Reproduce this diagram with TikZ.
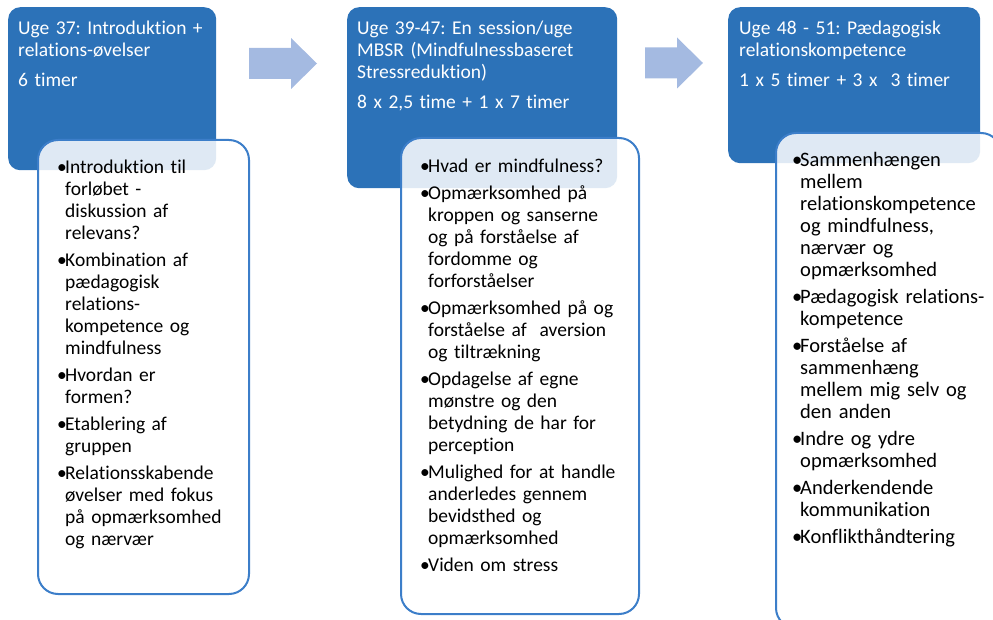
\documentclass[tikz,border=0pt]{standalone}
\usepackage{fontspec}
\setmainfont{Carlito}[Ligatures=NoCommon]
\usetikzlibrary{positioning}
\frenchspacing

\definecolor{hdrblue}{RGB}{44,114,184}
\definecolor{boxblue}{RGB}{60,126,201}
\definecolor{arrowblue}{RGB}{164,186,225}

% bullet and hanging indent
\newcommand{\bl}{\makebox[8pt][l]{\textbullet}}
\newcommand{\ind}{\hspace*{8pt}}

\begin{document}
\begin{tikzpicture}[x=1pt,y=-1pt,
  hdr/.style={fill=hdrblue, rounded corners=12pt, anchor=north west, inner sep=0pt},
  hdrtext/.style={anchor=base west, inner sep=0pt, text=white, align=left,
    text width=300pt, font=\fontsize{19.5}{22}\selectfont},
  itembox/.style={draw=boxblue, line width=2pt, fill=white, fill opacity=0.85,
    rounded corners=20pt, anchor=north west, inner sep=0pt},
  itemtext/.style={anchor=base west, inner sep=0pt, align=left,
    text width=300pt, font=\fontsize{19.5}{22}\selectfont},
  blockarrow/.style={fill=arrowblue}
]

\useasboundingbox (0,0) rectangle (993,620);
\clip (0,0) rectangle (993,620);

% Blue headers
\node[hdr, minimum width=208pt, minimum height=163pt] (h1) at (8,7) {};
\node[hdr, minimum width=270pt, minimum height=181pt] (h2) at (347,7) {};
\node[hdr, minimum width=252pt, minimum height=156pt] (h3) at (728,7) {};

\node[hdrtext] (t1) at ([shift={(10,28)}]h1.north west)
  {Uge 37: Introduktion +\\relations-øvelser\\[8pt]6 timer};
\node[hdrtext] (t2) at ([shift={(10,28)}]h2.north west)
  {Uge 39-47: En session/uge\\MBSR (Mindfulnessbaseret\\Stressreduktion)\\[8pt]8 x 2,5 time + 1 x 7 timer};
\node[hdrtext] (t3) at ([shift={(11,28)}]h3.north west)
  {Uge 48 - 51: Pædagogisk\\relationskompetence\\[8pt]1 x 5 timer + 3 x~~3 timer};

% White boxes
\node[itembox, minimum width=211pt, minimum height=454pt] (b1) at (37,139) {};
\node[itembox, minimum width=238pt, minimum height=476pt] (b2) at (400,137) {};
\node[itembox, minimum width=225pt, minimum height=495pt] (b3) at (775,132) {};

\node[itemtext] (l1) at ([shift={(20,35)}]b1.north west)
  {\bl Introduktion til\\\ind forløbet -\\\ind diskussion af\\\ind relevans?\\[5pt]
   \bl Kombination af\\\ind pædagogisk\\\ind relations-\\\ind kompetence og\\\ind mindfulness\\[5pt]
   \bl Hvordan er\\\ind formen?\\[5pt]
   \bl Etablering af\\\ind gruppen\\[5pt]
   \bl Relationsskabende\\\ind øvelser med fokus\\\ind på opmærksomhed\\\ind og nærvær};

\node[itemtext] (l2) at ([shift={(20,36)}]b2.north west)
  {\bl Hvad er mindfulness?\\[5pt]
   \bl Opmærksomhed på\\\ind kroppen og sanserne\\\ind og på forståelse af\\\ind fordomme og\\\ind forforståelser\\[5pt]
   \bl Opmærksomhed på og\\\ind forståelse af~~aversion\\\ind og tiltrækning\\[5pt]
   \bl Opdagelse af egne\\\ind mønstre og den\\\ind betydning de har for\\\ind perception\\[5pt]
   \bl Mulighed for at handle\\\ind anderledes gennem\\\ind bevidsthed og\\\ind opmærksomhed\\[5pt]
   \bl Viden om stress};

\node[itemtext, font=\fontsize{20.5}{22}\selectfont] (l3) at ([shift={(17,35)}]b3.north west)
  {\bl Sammenhængen\\\ind mellem\\\ind relationskompetence\\\ind og mindfulness,\\\ind nærvær og\\\ind opmærksomhed\\[5pt]
   \bl Pædagogisk relations-\\\ind kompetence\\[5pt]
   \bl Forståelse af\\\ind sammenhæng\\\ind mellem mig selv og\\\ind den anden\\[5pt]
   \bl Indre og ydre\\\ind opmærksomhed\\[5pt]
   \bl Anderkendende\\\ind kommunikation\\[5pt]
   \bl Konflikthåndtering};

% Block arrows
\coordinate (a1) at (249,63.5);
\coordinate (a2) at (645,63);
\fill[blockarrow] (a1) ++(0,-15.5) -- ++(42,0) -- ++(0,-10) -- ++(26,25.5)
  -- ++(-26,25.5) -- ++(0,-10) -- ++(-42,0) -- cycle;
\fill[blockarrow] (a2) ++(0,-15.5) -- ++(32,0) -- ++(0,-10) -- ++(26,25.5)
  -- ++(-26,25.5) -- ++(0,-10) -- ++(-32,0) -- cycle;

\end{tikzpicture}
\end{document}
